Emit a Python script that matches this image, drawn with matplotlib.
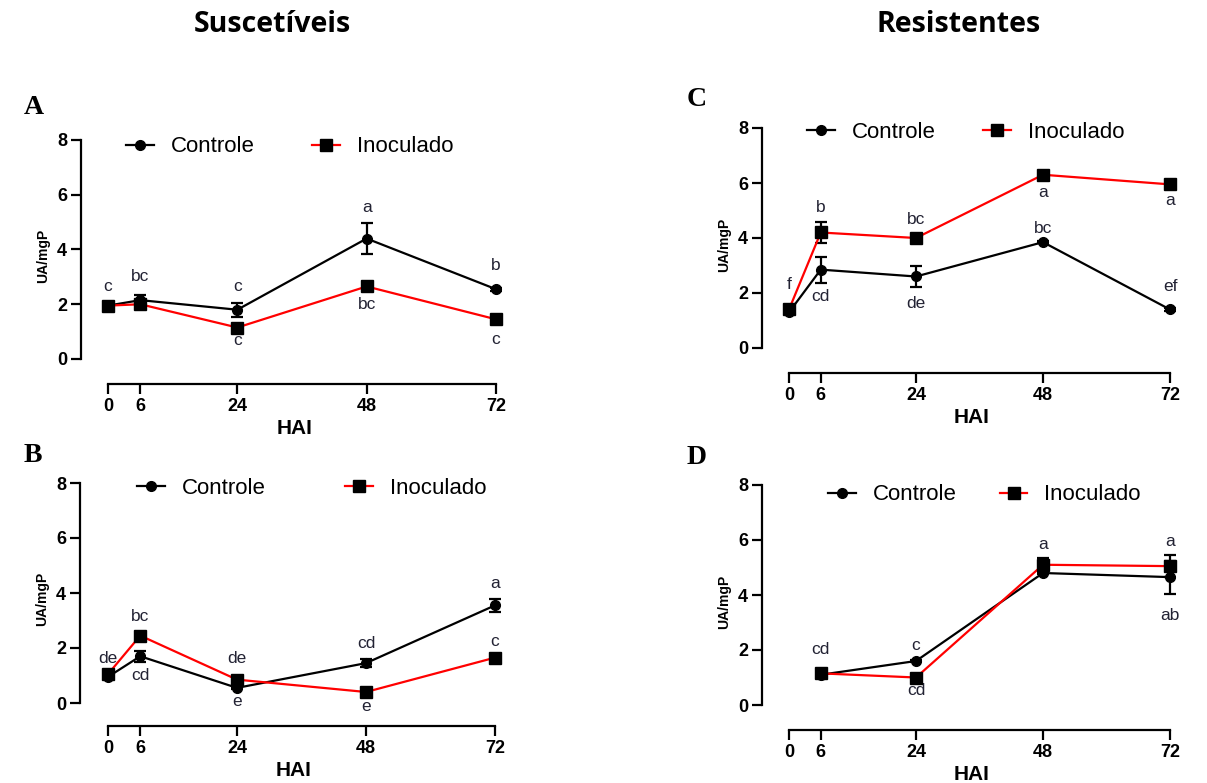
import matplotlib
matplotlib.use('Agg')
import matplotlib.pyplot as plt
from matplotlib.lines import Line2D

plt.rcParams['font.family'] = ['Liberation Sans', 'DejaVu Sans']

W, H = 1207, 783

hai = [0, 6, 24, 48, 72]
hai_d = [6, 24, 48, 72]

# Panel A - Suscetiveis
ctrl_a = [1.95, 2.15, 1.8, 4.4, 2.55]
ctrl_a_err = [0.05, 0.2, 0.25, 0.55, 0.05]
inoc_a = [1.95, 2.0, 1.15, 2.65, 1.45]
inoc_a_err = [0.05, 0.1, 0.05, 0.15, 0.05]
letters_a = [(0, 2.65, 'c'), (6, 3.0, 'bc'), (24, 2.65, 'c'), (48, 5.55, 'a'),
             (72, 3.4, 'b'), (48, 1.98, 'bc'), (24, 0.67, 'c'), (72, 0.73, 'c')]

# Panel B - Suscetiveis
ctrl_b = [0.95, 1.7, 0.55, 1.45, 3.55]
ctrl_b_err = [0.05, 0.2, 0.05, 0.15, 0.25]
inoc_b = [1.05, 2.45, 0.85, 0.4, 1.65]
inoc_b_err = [0.05, 0.12, 0.05, 0.05, 0.05]
letters_b = [(0, 1.61, 'de'), (6, 3.13, 'bc'), (6, 1.0, 'cd'), (24, 1.61, 'de'),
             (24, 0.04, 'e'), (48, 2.16, 'cd'), (48, -0.11, 'e'), (72, 4.36, 'a'),
             (72, 2.24, 'c')]

# Panel C - Resistentes
ctrl_c = [1.3, 2.85, 2.6, 3.85, 1.4]
ctrl_c_err = [0.05, 0.47, 0.37, 0.05, 0.05]
inoc_c = [1.4, 4.2, 4.0, 6.3, 5.95]
inoc_c_err = [0.05, 0.37, 0.05, 0.15, 0.05]
letters_c = [(0, 2.3, 'f'), (6, 5.1, 'b'), (6, 1.88, 'cd'), (24, 4.67, 'bc'),
             (24, 1.61, 'de'), (48, 5.67, 'a'), (48, 4.36, 'bc'), (72, 5.37, 'a'),
             (72, 2.24, 'ef')]

# Panel D - Resistentes (no 0 h point)
ctrl_d = [1.1, 1.6, 4.8, 4.65]
ctrl_d_err = [0.05, 0.05, 0.05, 0.6]
inoc_d = [1.15, 1.0, 5.1, 5.05]
inoc_d_err = [0.05, 0.05, 0.25, 0.4]
letters_d = [(6, 2.02, 'cd'), (24, 2.18, 'c'), (24, 0.52, 'cd'), (48, 5.85, 'a'),
             (72, 5.94, 'a'), (72, 3.27, 'ab')]

fig = plt.figure(figsize=(W / 100, H / 100), dpi=100)


def make_axes(yaxis_px, x0_px, x72_px, y0_px, y8_px, xaxis_px):
    sx = (x72_px - x0_px) / 72.0
    sy = (y0_px - y8_px) / 8.0
    right_px = x72_px + 12
    top_px = y8_px - 12
    ax = fig.add_axes([yaxis_px / W, 1 - xaxis_px / H,
                       (right_px - yaxis_px) / W, (xaxis_px - top_px) / H])
    ax.set_xlim(-(x0_px - yaxis_px) / sx, 72 + 12 / sx)
    ax.set_ylim(-(xaxis_px - y0_px) / sy, 8 + 12 / sy)
    ax.patch.set_alpha(0)
    for s in ['top', 'right']:
        ax.spines[s].set_visible(False)
    for s in ['left', 'bottom']:
        ax.spines[s].set_linewidth(1.6)
    ax.spines['left'].set_bounds(0, 8)
    ax.spines['bottom'].set_bounds(0, 72)
    ax.set_yticks([0, 2, 4, 6, 8])
    ax.set_xticks(hai)
    ax.tick_params(direction='out', length=7, width=1.6, labelsize=13, pad=3)
    for lab in ax.get_xticklabels() + ax.get_yticklabels():
        lab.set_fontweight('bold')
    ax.set_ylabel('UA/mgP', fontsize=10, fontweight='bold', labelpad=5)
    ax.set_xlabel('HAI', fontsize=15, fontweight='bold', labelpad=3)
    return ax


def draw_panel(ax, x, ctrl, ctrl_err, inoc, inoc_err, letters):
    ax.errorbar(x, ctrl, yerr=ctrl_err, color='black', lw=1.6, marker='o', ms=7,
                capsize=4, capthick=1.6, elinewidth=1.6, zorder=3)
    ax.errorbar(x, inoc, yerr=inoc_err, color='red', ecolor='black', lw=1.6,
                marker='s', ms=8, mfc='black', mec='black', capsize=4,
                capthick=1.6, elinewidth=1.6, zorder=4)
    for lx, ly, txt in letters:
        ax.text(lx, ly, txt, ha='center', va='center', fontsize=12.5, color='#222233')


def add_legend(ax, x_px, y_px, spacing):
    handles = [
        Line2D([], [], color='black', lw=1.6, marker='o', ms=7),
        Line2D([], [], color='red', lw=1.6, marker='s', ms=8, mfc='black', mec='black'),
    ]
    ax.legend(handles, ['Controle', 'Inoculado'], loc='center left', ncol=2,
              bbox_to_anchor=(x_px / W, 1 - y_px / H), bbox_transform=fig.transFigure,
              frameon=False, fontsize=16, handlelength=1.25, handletextpad=0.75,
              columnspacing=spacing, borderpad=0, borderaxespad=0)


ax_a = make_axes(81, 108, 496, 359, 140, 384)
draw_panel(ax_a, hai, ctrl_a, ctrl_a_err, inoc_a, inoc_a_err, letters_a)
add_legend(ax_a, 126, 147, 2.6)

ax_b = make_axes(80, 108, 495, 703, 483, 726)
draw_panel(ax_b, hai, ctrl_b, ctrl_b_err, inoc_b, inoc_b_err, letters_b)
add_legend(ax_b, 137, 488, 3.6)

ax_c = make_axes(762, 789, 1170, 348, 128, 373)
draw_panel(ax_c, hai, ctrl_c, ctrl_c_err, inoc_c, inoc_c_err, letters_c)
add_legend(ax_c, 807, 132, 2.15)

ax_d = make_axes(762, 789, 1170, 705, 485, 730)
draw_panel(ax_d, hai_d, ctrl_d, ctrl_d_err, inoc_d, inoc_d_err, letters_d)
add_legend(ax_d, 828, 495, 1.95)

# column titles and panel letters
fig.text(272 / W, 1 - 24 / H, 'Suscetíveis', ha='center', va='center',
         fontsize=20.5, fontweight='bold', family='Open Sans')
fig.text(959 / W, 1 - 24 / H, 'Resistentes', ha='center', va='center',
         fontsize=20.5, fontweight='bold', family='Open Sans')
for lbl, px, py in [('A', 34, 107), ('B', 33, 455), ('C', 697, 100), ('D', 697, 457)]:
    fig.text(px / W, 1 - py / H, lbl, ha='center', va='center', fontsize=20,
             fontweight='bold', family='Liberation Serif')

fig.savefig('out.png', dpi=100)
